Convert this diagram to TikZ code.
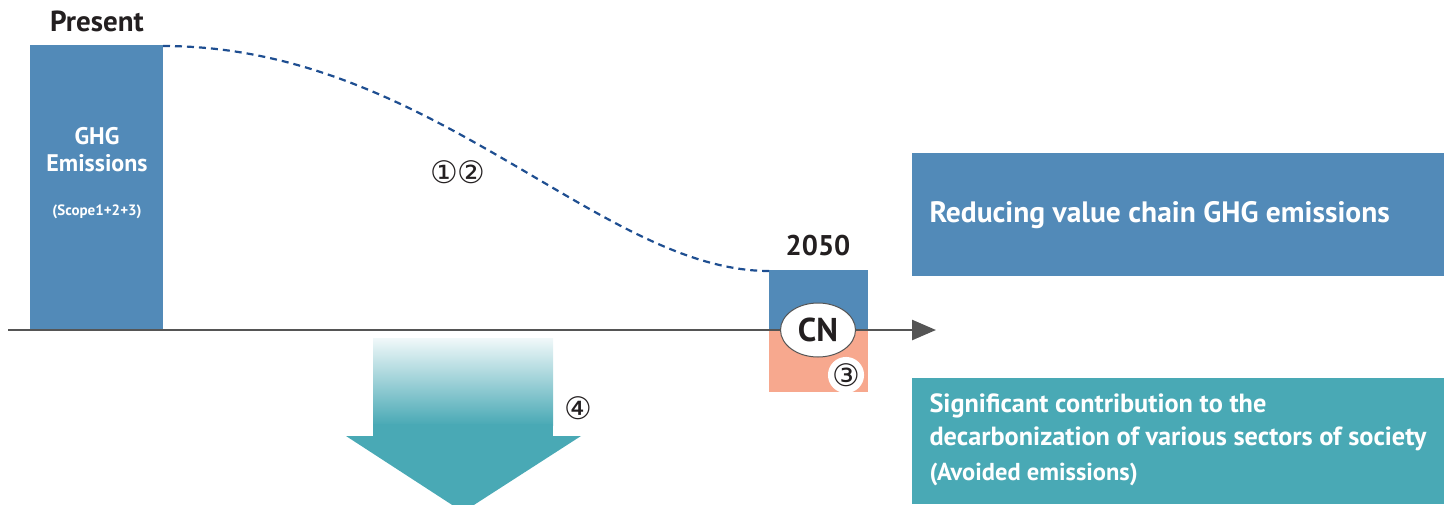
\documentclass[tikz,border=0pt]{standalone}
\usepackage{fontspec}
\setmainfont{PT Sans}
\newfontfamily\symfont{DejaVu Sans}
\usetikzlibrary{arrows.meta,shapes.geometric}
\definecolor{ghgblue}{RGB}{82,138,184}
\definecolor{tealc}{RGB}{73,169,181}
\definecolor{salmonc}{RGB}{247,168,142}
\definecolor{dashblue}{RGB}{30,78,145}
\definecolor{axisgray}{RGB}{85,85,85}
\definecolor{txtdark}{RGB}{35,31,32}
\tikzset{
  bluebox/.style={fill=ghgblue,draw=none},
  tealbox/.style={fill=tealc,draw=none},
  whitetxt/.style={text=white,font=\bfseries},
  circnum/.style={font=\symfont\fontsize{31}{34}\selectfont,text=txtdark,inner sep=0pt}
}
\begin{document}
\begin{tikzpicture}[x=1pt,y=-1pt]
\useasboundingbox (0,0) rectangle (1449,504);
% left bar
\path[bluebox] (30,45) rectangle (163,330);
\coordinate (barNE) at (163,46);
\node[text=txtdark,font=\bfseries\fontsize{29}{32}\selectfont] (present) at (97,21) {Present};
\node[whitetxt,font=\bfseries\fontsize{24}{28}\selectfont,align=center] (ghg) at (97,150) {GHG\\[-1pt]Emissions};
\node[whitetxt,font=\bfseries\fontsize{15}{18}\selectfont] (scope) at (97,212) {(Scope1+2+3)};
% 2050 box
\path[bluebox] (769,270) rectangle (868,330);
\path[fill=salmonc] (769,330) rectangle (868,392);
\coordinate (boxNW) at (769,271);
\node[text=txtdark,font=\bfseries\fontsize{28.5}{32}\selectfont] (y2050) at (818,246) {2050};
% axis
\coordinate (axstart) at (8,330);
\coordinate (axend) at (936,330);
\draw[axisgray,line width=2.6pt,-{Triangle[length=24pt,width=20pt]}] (axstart) -- (axend);
% CN ellipse
\node[ellipse,draw=axisgray,line width=1pt,fill=white,minimum width=75pt,minimum height=54pt,inner sep=0pt,text=txtdark,font=\bfseries\fontsize{33}{36}\selectfont] (cn) at (818,330) {CN};
\node[circnum,fill=white,circle,minimum size=0pt] (n3) at (846,375) {③};
% dashed curve
\draw[dashblue,line width=2.2pt,dash pattern=on 7pt off 5pt] (barNE) .. controls (430,46) and (600,271) .. (boxNW);
\node[circnum] (n12) at (458,172) {①②};
% down arrow
\shade[top color=white!92!tealc,bottom color=tealc] (373,338) rectangle (553,425);
\path[tealbox] (373,424) rectangle (553,437);
\path[tealbox] (346,436) -- (581,436) -- (463,512) -- cycle;
\node[circnum] (n4) at (578,408) {④};
% right boxes
\path[bluebox] (912,153) rectangle (1444,276);
\node[whitetxt,anchor=west,font=\bfseries\fontsize{29.5}{33}\selectfont] (reduce) at (926,215) {Reducing value chain GHG emissions};
\path[tealbox] (912,378) rectangle (1444,504);
\node[whitetxt,anchor=west,font=\bfseries\fontsize{26.3}{33}\selectfont,align=left] (sig) at (926,422) {Significant contribution to the\\decarbonization of various sectors of society};
\node[whitetxt,anchor=west,font=\bfseries\fontsize{24.5}{27}\selectfont] (avoid) at (926,474) {(Avoided emissions)};
\end{tikzpicture}
\end{document}
